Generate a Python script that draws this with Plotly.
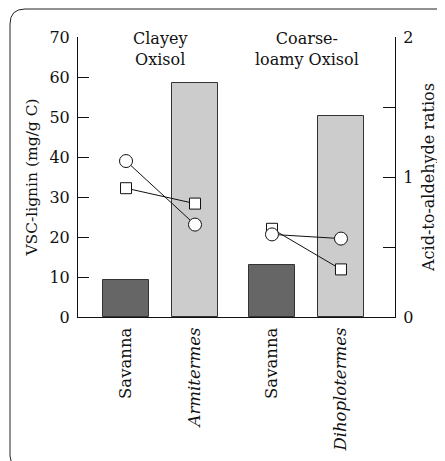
import plotly.graph_objects as go

# ---- data ----
categories = ["Savanna", "<i>Armitermes</i>", "Savanna", "<i>Dihoplotermes</i>"]
x_pos = [0, 1, 2.116, 3.116]
vsc_lignin = [9.25, 58.5, 13.0, 50.25]
bar_colors = ["#666666", "#cccccc", "#666666", "#cccccc"]

# acid-to-aldehyde ratios (right axis)
ratio_square = [0.92, 0.81, 0.63, 0.34]
ratio_circle = [1.114, 0.66, 0.59, 0.56]

group_labels = ["Clayey<br>Oxisol", "Coarse-<br>loamy Oxisol"]
group_label_x = [0.49, 2.62]

FONT = "DejaVu Serif, Liberation Serif, serif"

fig = go.Figure()

fig.add_trace(go.Bar(
    x=x_pos, y=vsc_lignin, width=0.667,
    marker=dict(color=bar_colors, line=dict(color="#333333", width=1)),
    showlegend=False, hoverinfo="skip",
))

# squares then circles, each group a separate pair
for series, symbol, size in [(ratio_square, "square", 11), (ratio_circle, "circle", 13)]:
    for g in (0, 2):
        fig.add_trace(go.Scatter(
            x=x_pos[g:g + 2], y=series[g:g + 2], yaxis="y2",
            mode="lines+markers",
            line=dict(color="#111111", width=1),
            marker=dict(symbol=symbol, size=size, color="white",
                        line=dict(color="#111111", width=1)),
            showlegend=False, hoverinfo="skip",
        ))

for txt, gx in zip(group_labels, group_label_x):
    fig.add_annotation(x=gx, xref="x", y=1.035, yref="paper", yanchor="top",
                       text=txt, showarrow=False,
                       font=dict(family=FONT, size=16, color="#111111"))

# page body offset of 8px: window coords -> figure coords
OFF = 8
L, T = 78 - OFF, 37 - OFF
W, H = 317, 280
def px(x):
    return (x - OFF - L) / W
def py(y):
    return (T + H - (y - OFF)) / H
r = 15
x0, y0 = 10, 9
path = (f"M {px(520)},{py(y0)} L {px(x0 + r)},{py(y0)} "
        f"Q {px(x0)},{py(y0)} {px(x0)},{py(y0 + r)} "
        f"L {px(x0)},{py(456)} Q {px(x0)},{py(462)} {px(x0 + 5)},{py(467)}")
fig.add_shape(type="path", path=path, xref="paper", yref="paper",
              line=dict(color="#222222", width=1))

fig.update_layout(
    width=445, height=461,
    margin=dict(l=L, r=445 - L - W, t=T, b=461 - T - H, autoexpand=False),
    paper_bgcolor="white", plot_bgcolor="white",
    font=dict(family=FONT, size=15, color="#111111"),
    bargap=0,
    xaxis=dict(
        range=[-0.696, 3.899], tickvals=x_pos, ticktext=categories,
        tickangle=-90, ticks="", showline=True, linecolor="#111111",
        linewidth=1, showgrid=False, zeroline=False, automargin=False,
        ticklabelstandoff=3,
        tickfont=dict(family=FONT, size=16.5),
    ),
    yaxis=dict(
        range=[0, 70], dtick=10, ticks="inside", ticklen=11,
        tickcolor="#111111", showline=True, linecolor="#111111",
        linewidth=1, showgrid=False, zeroline=False, automargin=False,
        ticklabelstandoff=4,
        title=dict(text="VSC-lignin (mg/g C)", standoff=8,
                   font=dict(family=FONT, size=15.5)),
        tickfont=dict(family=FONT, size=16),
    ),
    yaxis2=dict(
        overlaying="y", side="right", range=[0, 2],
        tickvals=[0, 0.5, 1, 1.5, 2], ticktext=["0", "", "1", "", "2"],
        ticks="inside", ticklen=12, tickcolor="#111111",
        showline=True, linecolor="#111111", linewidth=1,
        showgrid=False, zeroline=False, automargin=False,
        ticklabelstandoff=4,
        title=dict(text="Acid-to-aldehyde ratios", standoff=10,
                   font=dict(family=FONT, size=16)),
        tickfont=dict(family=FONT, size=16),
    ),
)

fig.write_html("out.html")
